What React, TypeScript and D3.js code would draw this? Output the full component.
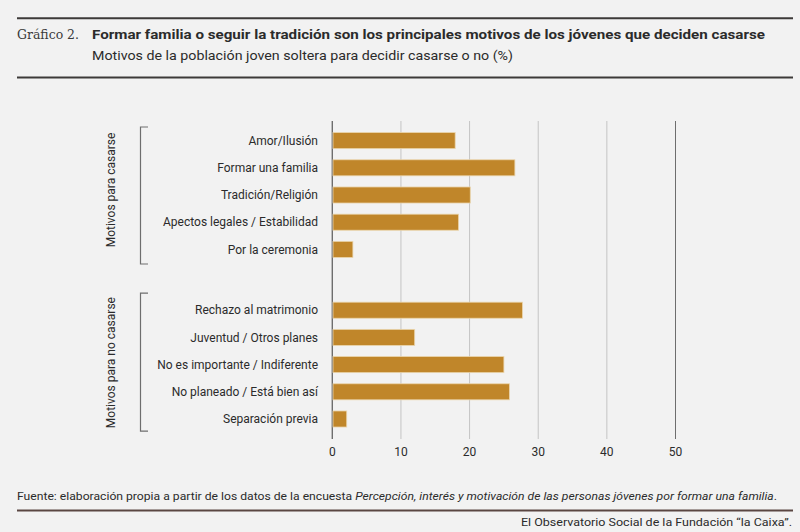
import React from "react";
import * as d3 from "d3";

const groupNames = ["Motivos para casarse", "Motivos para no casarse"];
const casarseCats = ["Amor/Ilusión", "Formar una familia", "Tradición/Religión", "Apectos legales / Estabilidad", "Por la ceremonia"];
const casarseVals = [17.9, 26.6, 20.1, 18.4, 3.0];
const noCasarseCats = ["Rechazo al matrimonio", "Juventud / Otros planes", "No es importante / Indiferente", "No planeado / Está bien así", "Separación previa "];
const noCasarseVals = [27.7, 12.0, 25.0, 25.8, 2.1];
const xTicks = [0, 10, 20, 30, 40, 50];

const W = 800;
const H = 532;
const FONT = "Roboto, 'Noto Sans', sans-serif";
const TEXT = "#2b2b2b";

export default function App() {
  const x = d3.scaleLinear().domain([0, 50]).range([332.3, 675.5]);
  const groups = [
    { name: groupNames[0], cats: casarseCats, vals: casarseVals, range: [127, 263] as [number, number] },
    { name: groupNames[1], cats: noCasarseCats, vals: noCasarseVals, range: [296.6, 432.6] as [number, number] },
  ];
  const gridTop = 121;
  const gridBottom = 439;

  return (
    <svg width={W} height={H} style={{ position: "absolute", left: 0, top: 0, display: "block" }}>
      <rect x={0} y={0} width={W} height={H} fill="#f2f2f2" />
      {/* header */}
      <line x1={17} x2={793} y1={18.3} y2={18.3} stroke="#3d3a39" strokeWidth={2} />
      <text x={17} y={38.5} fontFamily="'DejaVu Serif', 'Liberation Serif', serif" fontSize={13} fill="#3a3a3a" textLength={62} lengthAdjust="spacingAndGlyphs">Gráfico 2.</text>
      <text x={92} y={38.5} fontFamily={FONT} fontWeight={700} fontSize={13.5} fill={TEXT} textLength={673} lengthAdjust="spacingAndGlyphs">
        Formar familia o seguir la tradición son los principales motivos de los jóvenes que deciden casarse
      </text>
      <text x={92} y={60} fontFamily={FONT} fontSize={13.5} fill={TEXT} textLength={421} lengthAdjust="spacingAndGlyphs">
        Motivos de la población joven soltera para decidir casarse o no (%)
      </text>
      <line x1={17} x2={793} y1={77.5} y2={77.5} stroke="#3d3a39" strokeWidth={2} />

      {/* gridlines */}
      {xTicks.map((t) => (
        <line key={"g" + t} x1={x(t)} x2={x(t)} y1={gridTop} y2={gridBottom}
          stroke={t === 0 || t === 50 ? "#6e6e6e" : "#c4c4c4"} strokeWidth={t === 0 ? 1.4 : 1} />
      ))}

      {groups.map((g, gi) => {
        const y = d3.scaleBand<string>().domain(g.cats).range(g.range).paddingInner(0.41).paddingOuter(0.205);
        const mid = (g.range[0] + g.range[1]) / 2 - (gi === 0 ? 5 : 2);
        return (
          <g key={g.name}>
            {g.cats.map((c, i) => (
              <g key={c}>
                <rect x={x(0) + 0.7} y={y(c)!} width={x(g.vals[i]) - x(0) - 0.7} height={y.bandwidth()}
                  fill="#c0862a" stroke="#ead5ac" strokeWidth={0.8} />
                <text x={318} y={y(c)! + y.bandwidth() / 2} dy="0.35em" textAnchor="end"
                  fontFamily={FONT} fontSize={12} fill={TEXT}>{c}</text>
              </g>
            ))}
            <path d={`M148,${g.range[0] - (gi === 0 ? 0 : 3.5)}H140.5V${g.range[1] + (gi === 0 ? 1 : -1.5)}H148`}
              fill="none" stroke="#6e6e6e" strokeWidth={1.2} />
            <text transform={`translate(115,${mid}) rotate(-90)`} textAnchor="middle"
              fontFamily={FONT} fontSize={12} fill={TEXT}>{g.name}</text>
          </g>
        );
      })}

      {/* x axis labels */}
      {xTicks.map((t) => (
        <text key={"t" + t} x={x(t)} y={455.5} textAnchor="middle" fontFamily={FONT} fontSize={12} fill={TEXT}>{t}</text>
      ))}

      {/* footer */}
      <text x={17} y={500} fontFamily={FONT} fontSize={11.5} fill={TEXT} textLength={760} lengthAdjust="spacingAndGlyphs">
        Fuente: elaboración propia a partir de los datos de la encuesta <tspan fontStyle="italic">Percepción, interés y motivación de las personas jóvenes por formar una familia</tspan>.
      </text>
      <line x1={17} x2={793} y1={510.5} y2={510.5} stroke="#5a4642" strokeWidth={2} />
      <text x={792} y={526} textAnchor="end" fontFamily={FONT} fontSize={11.5} fill={TEXT} textLength={271} lengthAdjust="spacingAndGlyphs">
        El Observatorio Social de la Fundación “la Caixa”.
      </text>
    </svg>
  );
}
